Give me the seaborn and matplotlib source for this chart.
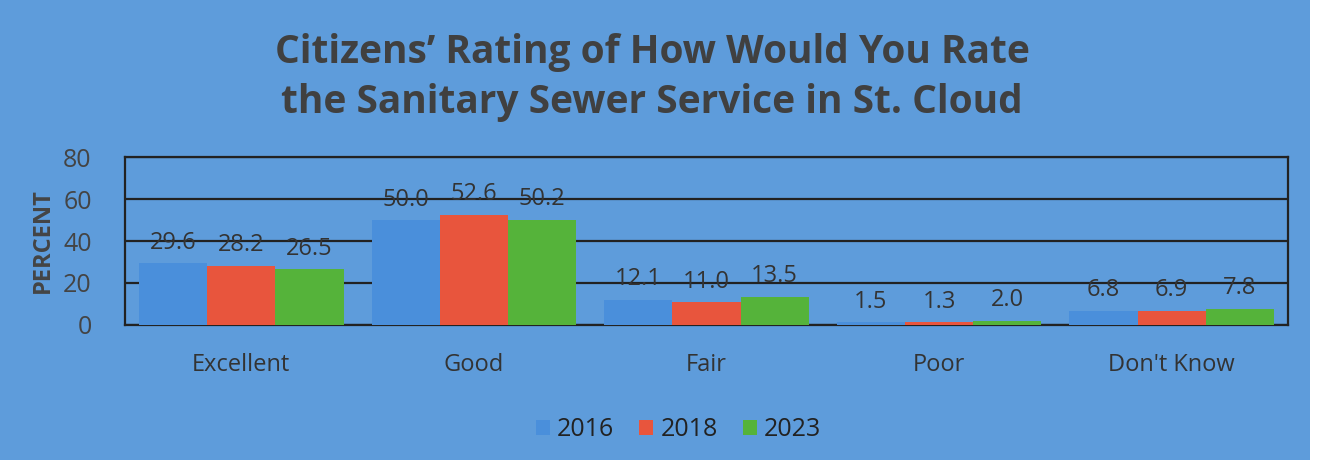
import matplotlib
matplotlib.use("Agg")
import matplotlib.pyplot as plt
from matplotlib.patches import Rectangle
import seaborn as sns
import pandas as pd

categories = ["Excellent", "Good", "Fair", "Poor", "Don't Know"]
years = ["2016", "2018", "2023"]
values_2016 = [29.6, 50.0, 12.1, 1.5, 6.8]
values_2018 = [28.2, 52.6, 11.0, 1.3, 6.9]
values_2023 = [26.5, 50.2, 13.5, 2.0, 7.8]
yticks = [0, 20, 40, 60, 80]

rows = []
for yr, vals in zip(years, [values_2016, values_2018, values_2023]):
    for c, v in zip(categories, vals):
        rows.append({"Rating": c, "Year": yr, "Percent": v})
df = pd.DataFrame(rows)

BG = "#5e9cdb"
palette = {"2016": "#4a8fdb", "2018": "#e8553d", "2023": "#55b33a"}
TXT = "#333333"

sns.set_theme(style="white")
plt.rcParams["font.family"] = ["Open Sans", "DejaVu Sans"]

fig = plt.figure(figsize=(13.23, 4.67), dpi=100, facecolor="white")
fig.patches.append(Rectangle((0, 0.015), 0.99, 0.985, transform=fig.transFigure,
                             facecolor=BG, edgecolor="none", zorder=-10))
ax = fig.add_axes([125 / 1323, 1 - 325 / 467, (1288 - 125) / 1323, (325 - 157) / 467])
ax.set_facecolor(BG)

sns.barplot(data=df, x="Rating", y="Percent", hue="Year", order=categories,
            hue_order=years, palette=palette, width=0.88, saturation=1,
            edgecolor="none", ax=ax, zorder=3)

for cont in ax.containers:
    ax.bar_label(cont, fmt="%.1f", padding=6, fontsize=17, color=TXT)

ax.set_ylim(0, 80)
ax.set_yticks(yticks)
ax.set_yticklabels([str(t) for t in yticks], fontsize=18, color="#444444")
ax.tick_params(axis="y", length=0, pad=24)
ax.tick_params(axis="x", length=0, pad=20, labelsize=17, labelcolor=TXT)
ax.yaxis.grid(True, color="#222222", linewidth=1.6, zorder=0)
ax.set_axisbelow(True)
for s in ax.spines.values():
    s.set_visible(True)
    s.set_color("#222222")
    s.set_linewidth(1.6)
ax.set_xlabel("")
ax.set_ylabel("PERCENT", fontsize=17, fontweight="bold", color="#444444", labelpad=6)

fig.text(0.493, 1 - 53 / 467, "Citizens\u2019 Rating of How Would You Rate",
         ha="center", va="center", fontsize=28, fontweight="bold", color="#404040")
fig.text(0.493, 1 - 103 / 467, "the Sanitary Sewer Service in St. Cloud",
         ha="center", va="center", fontsize=28, fontweight="bold", color="#404040")

ax.legend_.remove()
handles = [Rectangle((0, 0), 1, 1, facecolor=palette[y], edgecolor="none") for y in years]
fig.legend(handles, years, loc="center", bbox_to_anchor=(0.513, 1 - 430 / 467), ncol=3,
           frameon=False, fontsize=18, handlelength=0.55, handleheight=0.55,
           handletextpad=0.3, columnspacing=1.0, labelcolor="#222222")

fig.savefig("out.png", dpi=100, facecolor=fig.get_facecolor())
